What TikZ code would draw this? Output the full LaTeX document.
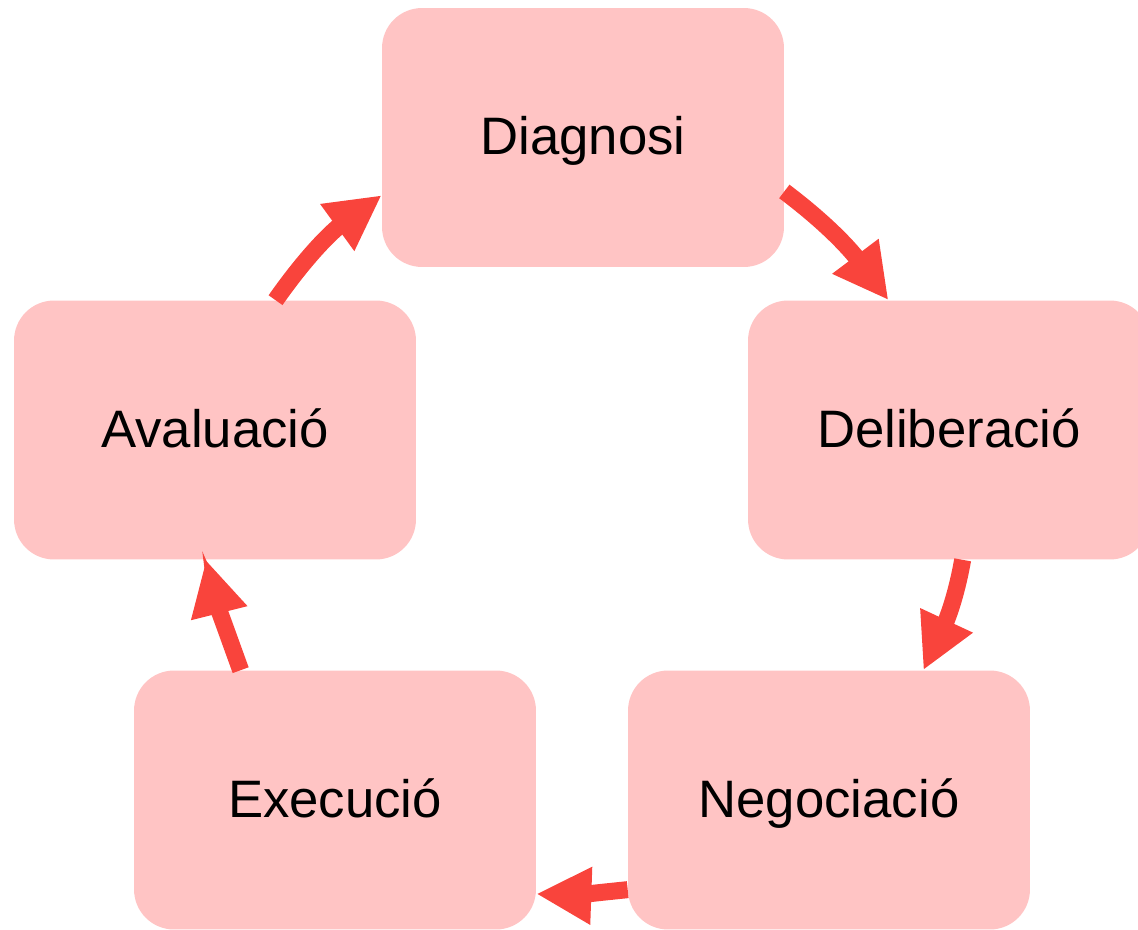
\documentclass[tikz,border=0pt]{standalone}
\usepackage{fontspec}
\setmainfont{Liberation Sans}
\usetikzlibrary{arrows.meta}
\definecolor{boxpink}{HTML}{FFC4C4}
\definecolor{arrowred}{HTML}{F9443C}
\begin{document}
\begin{tikzpicture}[x=0.02cm, y=-0.02cm,
  stage/.style={rectangle, rounded corners=0.8cm, minimum width=8.04cm, minimum height=5.18cm, text centered, fill=boxpink, text height=0.9cm, text depth=0.2cm, font=\fontsize{30}{36}\selectfont},
  flow/.style={-{Triangle[length=1.1cm, width=1.08cm]}, line width=0.34cm, draw=arrowred}]
\useasboundingbox (0,0) rectangle (1138,929);
% Fases del cicle
\node (diagnosi) [stage] at (583,137.5) {Diagnosi};

\node (deliberacio) [stage] at (949,430) {Deliberació};
\node (avaluacio) [stage] at (215,430) {Avaluació};

\node (negociacio) [stage] at (829,800) {Negociació};
\node (execucio) [stage] at (335,800) {Execució};

% Connexions
\draw[flow] (diagnosi.-15) to[out=-37, in=127] (deliberacio.115);
\draw[flow] (deliberacio.-84) to[out=-100, in=65] (negociacio.54);
\draw[flow] (negociacio.204) to[out=186, in=-2] (execucio.-25);
\draw[flow] (execucio.126) to[out=110, in=-76] (avaluacio.-94);
\draw[flow] (avaluacio.65) to[out=55, in=216] (diagnosi.196);

\end{tikzpicture}
\end{document}
